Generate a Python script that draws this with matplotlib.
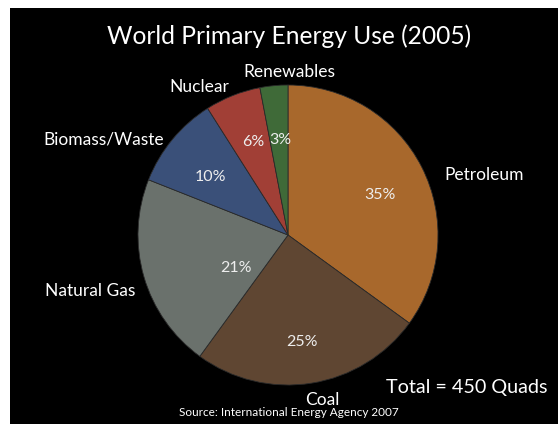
import matplotlib
matplotlib.use("Agg")
import matplotlib.pyplot as plt
from matplotlib.patches import Rectangle

categories = ["Petroleum", "Coal", "Natural Gas", "Biomass/Waste", "Nuclear", "Renewables"]
shares = [35, 25, 21, 10, 6, 3]
pct_labels = ["35%", "25%", "21%", "10%", "6%", "3%"]
colors = ["#A8682C", "#5F4632", "#6A716C", "#3A5079", "#A13F36", "#3F6A38"]

title = "World Primary Energy Use (2005)"
total_note = "Total = 450 Quads"
source = "Source: International Energy Agency 2007"

# label positions (pie units, radius = 1)
name_pos = [(1.31, 0.40), (0.23, -1.10), (-1.32, -0.37), (-1.23, 0.64), (-0.59, 0.99), (0.01, 1.09)]
pct_pos = [(0.61, 0.27), (0.09, -0.71), (-0.35, -0.22), (-0.52, 0.39), (-0.23, 0.62), (-0.05, 0.635)]

plt.rcParams['font.family'] = ['Lato', 'DejaVu Sans']

W, H = 558, 424
fig = plt.figure(figsize=(W / 100, H / 100), dpi=100)
fig.patch.set_facecolor("white")
fig.add_artist(Rectangle((10 / W, 0), 1, (H - 8) / H, transform=fig.transFigure,
                         facecolor="black", edgecolor="none", zorder=0))

cx, cy, r = 288, 235, 150
ax = fig.add_axes([(cx - r) / W, (H - cy - r) / H, 2 * r / W, 2 * r / H])
ax.set_facecolor("none")
ax.pie(shares, colors=colors, startangle=90, counterclock=False, radius=1,
       wedgeprops=dict(edgecolor="#2a2a2a", linewidth=0.6))
ax.set_xlim(-1, 1)
ax.set_ylim(-1, 1)
ax.set_aspect("equal")
ax.axis("off")

for name, (x, y) in zip(categories, name_pos):
    ax.text(x, y, name, color="white", fontsize=12.5, ha="center", va="center", clip_on=False)
for p, (x, y) in zip(pct_labels, pct_pos):
    ax.text(x, y, p, color="#EEEEEE", fontsize=11.5, ha="center", va="center")

fig.text(289 / W, 1 - 36 / H, title, color="white", fontsize=17.7, ha="center", va="center")
fig.text(467 / W, 1 - 387 / H, total_note, color="white", fontsize=14.2, ha="center", va="center")
fig.text(289 / W, 1 - 413 / H, source, color="white", fontsize=8.5, ha="center", va="center")

fig.savefig("out.png", dpi=100, facecolor=fig.get_facecolor())
